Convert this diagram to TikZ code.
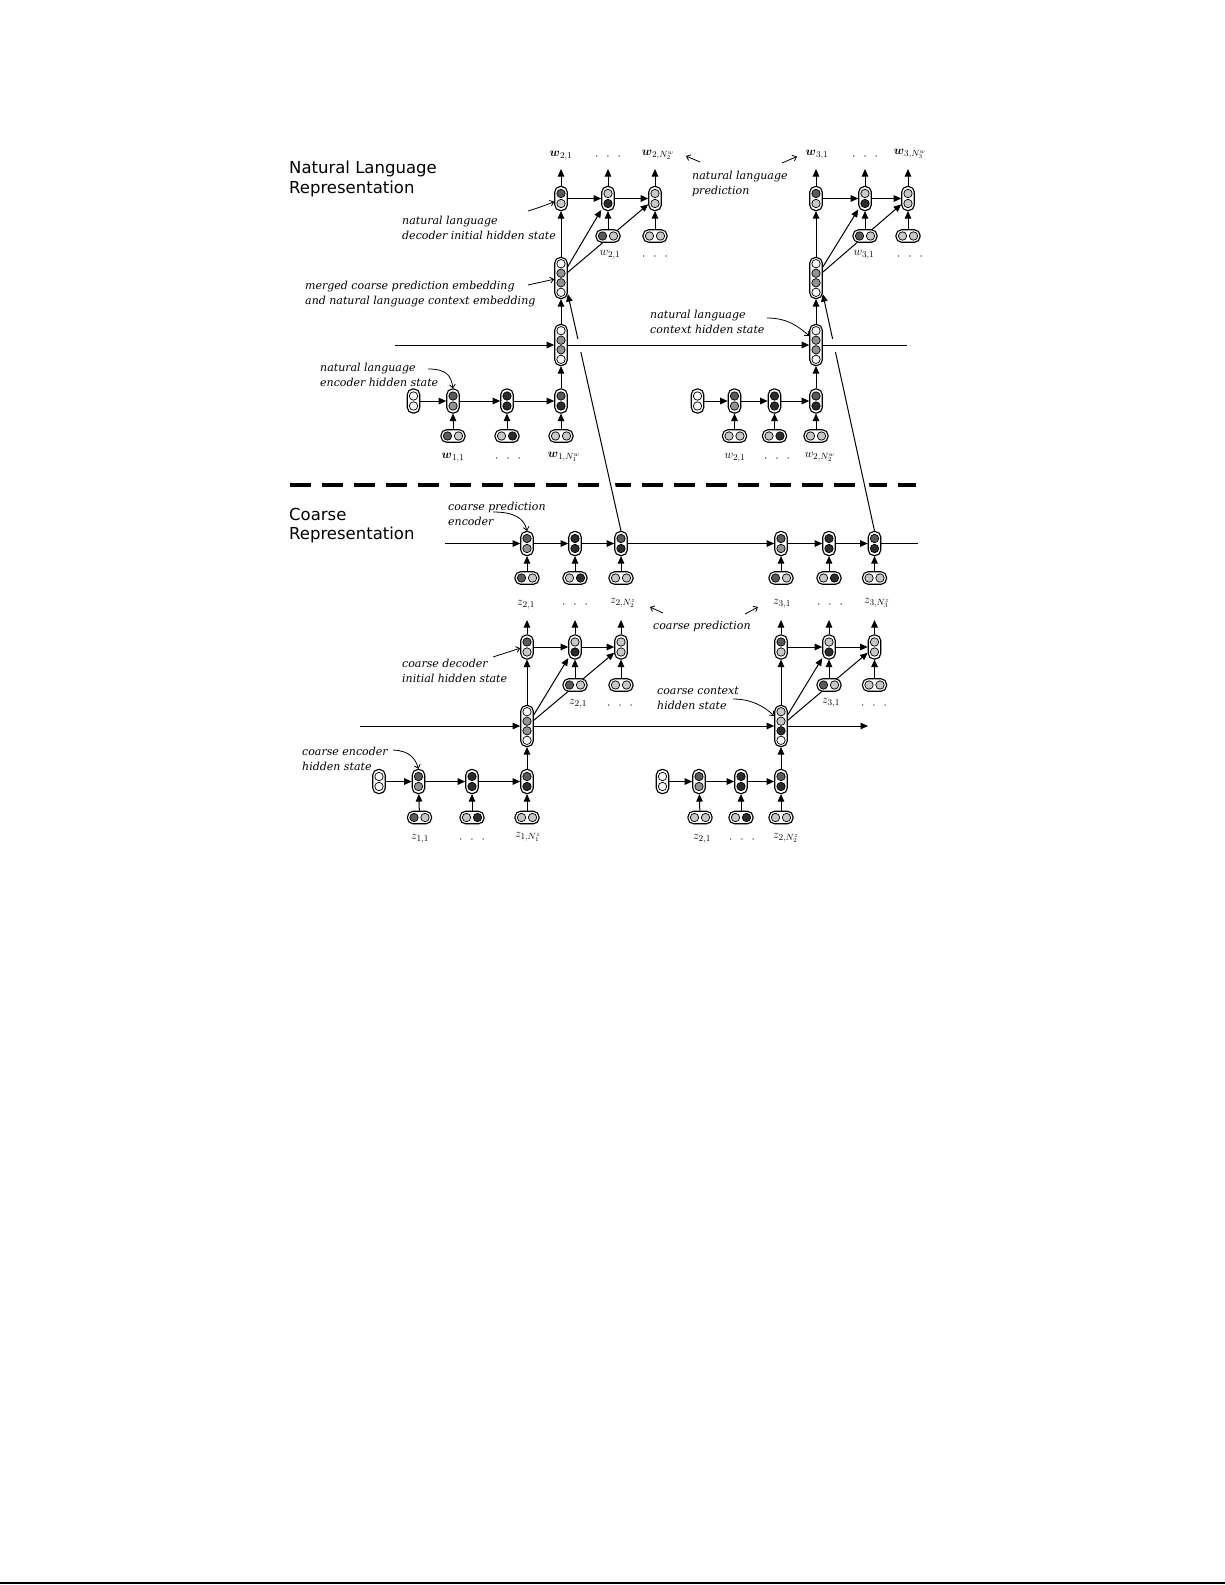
\documentclass[tikz,border=0pt]{standalone}
\usepackage{amsmath}
\usepackage{fontspec}
\usetikzlibrary{arrows.meta,shadows}
\newfontfamily\headfont{DejaVu Sans}
\newfontfamily\notefont{DejaVu Serif}
\definecolor{cW}{HTML}{F8F8F8}
\definecolor{cL}{HTML}{C8C8C8}
\definecolor{cM}{HTML}{929292}
\definecolor{cE}{HTML}{5A5A5A}
\definecolor{cD}{HTML}{2C2C2C}
\pgfdeclarelayer{bg}
\pgfsetlayers{bg,main}
\tikzset{
 cellbox/.style={draw=black, line width=1.1pt, fill=white, rounded corners=5.5pt, inner sep=0pt,
   drop shadow={shadow xshift=0.7pt,shadow yshift=-0.7pt,opacity=0.3}},
 vcell/.style={cellbox, minimum width=12.5pt, minimum height=24pt},
 qcell/.style={cellbox, minimum width=12.5pt, minimum height=41pt},
 hcell/.style={cellbox, minimum width=24pt, minimum height=12.5pt},
 circ/.style={circle, draw=black, line width=0.7pt, minimum size=8.4pt, inner sep=0pt},
 arr/.style={line width=1pt, -{Triangle[length=7.5pt,width=6.5pt]}},
 conn/.style={line width=1pt},
 gapstroke/.style={draw=white, line width=13pt},
 sepline/.style={line width=3.5pt, dash pattern=on 21pt off 11pt},
 notetext/.style={font=\notefont\itshape\fontsize{11}{14.5}\selectfont, align=left, anchor=north west, inner sep=0pt},
 headtext/.style={font=\headfont\fontsize{16.5}{19.3}\selectfont, align=left, anchor=north west, inner sep=0pt},
 callout/.style={line width=0.8pt, -{Straight Barb[length=3.5pt,width=6pt]}},
 lbl/.style={font=\fontsize{13}{15}\selectfont, inner sep=0pt},
}
\newcommand\cellV[5]{\node[vcell] (#1) at (#2,#3) {};
 \node[circ,fill=#4] (#1a) at ([yshift=5pt]#1.center) {};
 \node[circ,fill=#5] (#1b) at ([yshift=-5pt]#1.center) {};}
\newcommand\cellH[5]{\node[hcell] (#1) at (#2,#3) {};
 \node[circ,fill=#4] (#1a) at ([xshift=-5.5pt]#1.center) {};
 \node[circ,fill=#5] (#1b) at ([xshift=5.5pt]#1.center) {};}
\newcommand\cellQ[7]{\node[qcell] (#1) at (#2,#3) {};
 \node[circ,fill=#4] (#1a) at ([yshift=14.3pt]#1.center) {};
 \node[circ,fill=#5] (#1b) at ([yshift=4.8pt]#1.center) {};
 \node[circ,fill=#6] (#1c) at ([yshift=-4.8pt]#1.center) {};
 \node[circ,fill=#7] (#1d) at ([yshift=-14.3pt]#1.center) {};}
\newcommand\threedots{$\cdot\mkern8mu\cdot\mkern8mu\cdot$}
\begin{document}
\begin{tikzpicture}[x=1pt,y=-1pt]
\begin{pgfonlayer}{bg}
\fill[white] (0,0) rectangle (1225,1585);
\end{pgfonlayer}
\useasboundingbox (0,0) rectangle (1225,1585);

% ---------------- titles and notes ----------------
\node[headtext] (tnl) at (289,161) {Natural Language\\Representation};
\node[headtext] (tco) at (289,508) {Coarse\\Representation};
\node[notetext] (n1) at (402,216) {natural language\\decoder initial hidden state};
\node[notetext] (n2) at (305,281) {merged coarse prediction embedding\\and natural language context embedding};
\node[notetext] (n3) at (320,363) {natural language\\encoder hidden state};
\node[notetext] (n4) at (692,171) {natural language\\prediction};
\node[notetext] (n5) at (650,310) {natural language\\context hidden state};
\node[notetext] (n6) at (448,502) {coarse prediction\\encoder};
\node[notetext] (n7) at (653,621) {coarse prediction};
\node[notetext] (n8) at (402,659) {coarse decoder\\initial hidden state};
\node[notetext] (n9) at (657,687) {coarse context\\hidden state};
\node[notetext] (n10) at (302,747) {coarse encoder\\hidden state};

% ---------------- natural language, block 1 ----------------
\cellV{nda}{561}{198.5}{cE}{cL}
\cellV{ndb}{608}{198.5}{cL}{cD}
\cellV{ndc}{655}{198.5}{cL}{cL}
\cellH{ndib}{608}{236}{cE}{cL}
\cellH{ndic}{655}{236}{cL}{cL}
\cellQ{nma}{561}{278}{cW}{cM}{cM}{cW}
\cellQ{nca}{561}{345}{cW}{cM}{cM}{cW}
\cellV{nea0}{413.5}{401}{cW}{cW}
\cellV{nea1}{453}{401}{cE}{cM}
\cellV{nea2}{507}{401}{cD}{cD}
\cellV{nea3}{561}{401}{cE}{cD}
\cellH{nia1}{453}{436}{cE}{cL}
\cellH{nia2}{507}{436}{cL}{cD}
\cellH{nia3}{561}{436}{cL}{cL}
% ---------------- natural language, block 2 ----------------
\cellV{ndd}{816}{198.5}{cE}{cL}
\cellV{nde}{865}{198.5}{cL}{cD}
\cellV{ndf}{908}{198.5}{cL}{cL}
\cellH{ndie}{865}{236}{cE}{cL}
\cellH{ndif}{908}{236}{cL}{cL}
\cellQ{nmb}{816}{278}{cW}{cM}{cM}{cW}
\cellQ{ncb}{816}{345}{cW}{cM}{cM}{cW}
\cellV{neb0}{697.5}{401}{cW}{cW}
\cellV{neb1}{734.5}{401}{cE}{cM}
\cellV{neb2}{774.5}{401}{cD}{cD}
\cellV{neb3}{816}{401}{cE}{cD}
\cellH{nib1}{734.5}{436}{cL}{cL}
\cellH{nib2}{774.5}{436}{cL}{cD}
\cellH{nib3}{816}{436}{cL}{cL}

% ---------------- coarse prediction encoder ----------------
\cellV{pa}{527}{543.5}{cE}{cM}
\cellV{pb}{575}{543.5}{cD}{cD}
\cellV{pc}{621}{543.5}{cE}{cD}
\cellV{pd}{781}{543.5}{cE}{cM}
\cellV{pe}{829}{543.5}{cD}{cD}
\cellV{pf}{874.5}{543.5}{cE}{cD}
\cellH{pia}{527}{578}{cE}{cL}
\cellH{pib}{575}{578}{cL}{cD}
\cellH{pic}{621}{578}{cL}{cL}
\cellH{pid}{781}{578}{cE}{cL}
\cellH{pie}{829}{578}{cL}{cD}
\cellH{pif}{874.5}{578}{cL}{cL}

% ---------------- coarse decoders / contexts / encoders ----------------
\cellV{cda}{527}{647}{cE}{cL}
\cellV{cdb}{575}{647}{cL}{cD}
\cellV{cdc}{621}{647}{cL}{cL}
\cellH{cdib}{575}{685}{cE}{cL}
\cellH{cdic}{621}{685}{cL}{cL}
\cellV{cdd}{781}{647}{cE}{cL}
\cellV{cde}{829}{647}{cL}{cD}
\cellV{cdf}{874.5}{647}{cL}{cL}
\cellH{cdie}{829}{685}{cE}{cL}
\cellH{cdif}{874.5}{685}{cL}{cL}
\cellQ{cca}{527}{726}{cW}{cM}{cM}{cW}
\cellQ{ccb}{781}{726}{cL}{cL}{cD}{cW}
\cellV{cea0}{379}{781.5}{cW}{cW}
\cellV{cea1}{418.5}{781.5}{cE}{cM}
\cellV{cea2}{472}{781.5}{cD}{cD}
\cellV{cea3}{527}{781.5}{cE}{cD}
\cellH{cia1}{419.5}{817.5}{cE}{cL}
\cellH{cia2}{472}{817.5}{cL}{cD}
\cellH{cia3}{527}{817.5}{cL}{cL}
\cellV{ceb0}{662.5}{781.5}{cW}{cW}
\cellV{ceb1}{699}{781.5}{cE}{cM}
\cellV{ceb2}{741}{781.5}{cD}{cD}
\cellV{ceb3}{781}{781.5}{cE}{cD}
\cellH{cib1}{700}{817.5}{cL}{cL}
\cellH{cib2}{741}{817.5}{cL}{cD}
\cellH{cib3}{781}{817.5}{cL}{cL}

% ---------------- labels ----------------
\node[lbl] (lt1) at (561,156) {$\boldsymbol{w}_{2,1}$};
\node[lbl] (lt2) at (608,157) {\threedots};
\node[lbl] (lt3) at (658,155) {$\boldsymbol{w}_{2,N_2^w}$};
\node[lbl] (lt4) at (817,155) {$\boldsymbol{w}_{3,1}$};
\node[lbl] (lt5) at (865,157) {\threedots};
\node[lbl] (lt6) at (910,154) {$\boldsymbol{w}_{3,N_3^w}$};
\node[lbl] (lb1) at (610,255) {$w_{2,1}$};
\node[lbl] (lb2) at (655,257) {\threedots};
\node[lbl] (lb3) at (864,255) {$w_{3,1}$};
\node[lbl] (lb4) at (910,257) {\threedots};
\node[lbl] (le1) at (453,458) {$\boldsymbol{w}_{1,1}$};
\node[lbl] (le2) at (508,459) {\threedots};
\node[lbl] (le3) at (564,457) {$\boldsymbol{w}_{1,N_1^w}$};
\node[lbl] (le4) at (735,458) {$w_{2,1}$};
\node[lbl] (le5) at (777,459) {\threedots};
\node[lbl] (le6) at (820,457) {$w_{2,N_2^w}$};
\node[lbl] (lz1) at (526,605) {$z_{2,1}$};
\node[lbl] (lz2) at (575,605) {\threedots};
\node[lbl] (lz3) at (623,603) {$z_{2,N_2^z}$};
\node[lbl] (lz4) at (782,604) {$z_{3,1}$};
\node[lbl] (lz5) at (830,605) {\threedots};
\node[lbl] (lz6) at (877,603) {$z_{3,N_3^z}$};
\node[lbl] (ld1) at (578,704) {$z_{2,1}$};
\node[lbl] (ld2) at (620,706) {\threedots};
\node[lbl] (ld3) at (831,703) {$z_{3,1}$};
\node[lbl] (ld4) at (874,706) {\threedots};
\node[lbl] (lc1) at (420,839) {$z_{1,1}$};
\node[lbl] (lc2) at (472,840) {\threedots};
\node[lbl] (lc3) at (528,837) {$z_{1,N_1^z}$};
\node[lbl] (lc4) at (702,839) {$z_{2,1}$};
\node[lbl] (lc5) at (742,840) {\threedots};
\node[lbl] (lc6) at (786,838) {$z_{2,N_2^z}$};

% ---------------- free ends ----------------
\coordinate (oa) at (561,169);
\coordinate (ob) at (608,169);
\coordinate (oc) at (655,169);
\coordinate (od) at (816,169);
\coordinate (oe) at (865,169);
\coordinate (of) at (908,169);
\coordinate (qa) at (527,620);
\coordinate (qb) at (575,620);
\coordinate (qc) at (621,620);
\coordinate (qd) at (781,620);
\coordinate (qe) at (829,620);
\coordinate (qf) at (874.5,620);
\coordinate (hl1) at (395,345);
\coordinate (hr1) at (907,345);
\coordinate (hl2) at (445,543.5);
\coordinate (hr2) at (918,543.5);
\coordinate (hl3) at (360,726);
\coordinate (hr3) at (868,726);
\coordinate (dl) at (290,485);
\coordinate (dr) at (916,485);
\coordinate (bl) at (0,1583);
\coordinate (br) at (1225,1583);
\coordinate (k1) at (528,211);
\coordinate (k2) at (528,285);
\coordinate (k3) at (428,369);
\coordinate (k4a) at (700,162);
\coordinate (k4b) at (686,156);
\coordinate (k4c) at (782,163);
\coordinate (k4d) at (797,156.5);
\coordinate (k5) at (767,318);
\coordinate (k6) at (493,512);
\coordinate (k7a) at (663,613);
\coordinate (k7b) at (650,607);
\coordinate (k7c) at (745,614);
\coordinate (k7d) at (758,607);
\coordinate (k8) at (493,657);
\coordinate (k9) at (733,699);
\coordinate (k10) at (393,750);

\begin{pgfonlayer}{bg}
\draw[line width=1.5pt] (bl) -- (br);
\draw[sepline] (dl) -- (dr);
% long links from coarse prediction encoders to merged embeddings
\draw[arr, preaction={draw=white,line width=9pt,-}] (pc.north) -- (nma.-67);
\draw[arr, preaction={draw=white,line width=9pt,-}] (pf.north) -- (nmb.-67);
% gaps under the natural language context line
\draw[gapstroke] (nca) -- (ncb);
\draw[gapstroke] (ncb) -- (hr1);
% natural language context line
\draw[arr] (hl1) -- (nca);
\draw[arr] (nca) -- (ncb);
\draw[conn] (ncb) -- (hr1);
% NL block 1
\draw[arr] (nda) -- (oa);
\draw[arr] (ndb) -- (ob);
\draw[arr] (ndc) -- (oc);
\draw[arr] (nda) -- (ndb);
\draw[arr] (ndb) -- (ndc);
\draw[arr] (ndib) -- (ndb);
\draw[arr] (ndic) -- (ndc);
\draw[arr] (nma) -- (nda);
\draw[arr] (nma) -- (ndb);
\draw[arr] (nma) -- (ndc);
\draw[arr] (nca) -- (nma);
\draw[arr] (nea0) -- (nea1);
\draw[arr] (nea1) -- (nea2);
\draw[arr] (nea2) -- (nea3);
\draw[arr] (nia1) -- (nea1);
\draw[arr] (nia2) -- (nea2);
\draw[arr] (nia3) -- (nea3);
\draw[arr] (nea3) -- (nca);
% NL block 2
\draw[arr] (ndd) -- (od);
\draw[arr] (nde) -- (oe);
\draw[arr] (ndf) -- (of);
\draw[arr] (ndd) -- (nde);
\draw[arr] (nde) -- (ndf);
\draw[arr] (ndie) -- (nde);
\draw[arr] (ndif) -- (ndf);
\draw[arr] (nmb) -- (ndd);
\draw[arr] (nmb) -- (nde);
\draw[arr] (nmb) -- (ndf);
\draw[arr] (ncb) -- (nmb);
\draw[arr] (neb0) -- (neb1);
\draw[arr] (neb1) -- (neb2);
\draw[arr] (neb2) -- (neb3);
\draw[arr] (nib1) -- (neb1);
\draw[arr] (nib2) -- (neb2);
\draw[arr] (nib3) -- (neb3);
\draw[arr] (neb3) -- (ncb);
% coarse prediction encoder
\draw[arr] (hl2) -- (pa);
\draw[arr] (pa) -- (pb);
\draw[arr] (pb) -- (pc);
\draw[arr] (pc) -- (pd);
\draw[arr] (pd) -- (pe);
\draw[arr] (pe) -- (pf);
\draw[conn] (pf) -- (hr2);
\draw[arr] (pia) -- (pa);
\draw[arr] (pib) -- (pb);
\draw[arr] (pic) -- (pc);
\draw[arr] (pid) -- (pd);
\draw[arr] (pie) -- (pe);
\draw[arr] (pif) -- (pf);
% coarse decoders
\draw[arr] (cda) -- (qa);
\draw[arr] (cdb) -- (qb);
\draw[arr] (cdc) -- (qc);
\draw[arr] (cdd) -- (qd);
\draw[arr] (cde) -- (qe);
\draw[arr] (cdf) -- (qf);
\draw[arr] (cda) -- (cdb);
\draw[arr] (cdb) -- (cdc);
\draw[arr] (cdd) -- (cde);
\draw[arr] (cde) -- (cdf);
\draw[arr] (cdib) -- (cdb);
\draw[arr] (cdic) -- (cdc);
\draw[arr] (cdie) -- (cde);
\draw[arr] (cdif) -- (cdf);
\draw[arr] (cca) -- (cda);
\draw[arr] (cca) -- (cdb);
\draw[arr] (cca) -- (cdc);
\draw[arr] (ccb) -- (cdd);
\draw[arr] (ccb) -- (cde);
\draw[arr] (ccb) -- (cdf);
% coarse context line
\draw[arr] (hl3) -- (cca);
\draw[arr] (cca) -- (ccb);
\draw[arr] (ccb) -- (hr3);
% coarse encoders
\draw[arr] (cea0) -- (cea1);
\draw[arr] (cea1) -- (cea2);
\draw[arr] (cea2) -- (cea3);
\draw[arr] (cia1) -- (cea1);
\draw[arr] (cia2) -- (cea2);
\draw[arr] (cia3) -- (cea3);
\draw[arr] (cea3) -- (cca);
\draw[arr] (ceb0) -- (ceb1);
\draw[arr] (ceb1) -- (ceb2);
\draw[arr] (ceb2) -- (ceb3);
\draw[arr] (cib1) -- (ceb1);
\draw[arr] (cib2) -- (ceb2);
\draw[arr] (cib3) -- (ceb3);
\draw[arr] (ceb3) -- (ccb);
% callout arrows
\draw[callout] (k1) .. controls (538,208) and (546,205) .. (nda.205);
\draw[callout] (k2) -- (nma.190);
\draw[callout] (k3) .. controls (446,369) and (451,375) .. (nea1.north);
\draw[callout] (k4a) -- (k4b);
\draw[callout] (k4c) -- (k4d);
\draw[callout] (k5) .. controls (787,318) and (798,326) .. (ncb.127);
\draw[callout] (k6) .. controls (514,512) and (524,518) .. (pa.north);
\draw[callout] (k7a) -- (k7b);
\draw[callout] (k7c) -- (k7d);
\draw[callout] (k8) -- (cda.190);
\draw[callout] (k9) .. controls (752,699) and (765,707) .. (ccb.124);
\draw[callout] (k10) .. controls (410,751) and (415,758) .. (cea1.north);
\end{pgfonlayer}
\end{tikzpicture}
\end{document}
